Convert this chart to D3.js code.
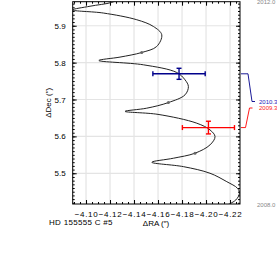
<!DOCTYPE html>
<html>
<head>
<meta charset="utf-8">
<script src="https://cdn.jsdelivr.net/npm/d3@7"></script>
<style>
  body { margin: 0; background: #fff; }
  svg { display: block; font-family: "Liberation Sans", Arial, sans-serif; }
</style>
</head>
<body>
<div class="chart-container"></div>
<script>
// tick labels
var raTicks = [-4.10, -4.12, -4.14, -4.16, -4.18, -4.20, -4.22];
var decTicks = [5.5, 5.6, 5.7, 5.8, 5.9];

// predicted motion path, from 2012.0 (top) to 2008.0 (bottom)
var pathRA = [-4.1283, -4.1214, -4.1033, -4.0888, -4.1144, -4.1423, -4.1561, -4.1631,
              -4.1589, -4.1464, -4.1283, -4.1107, -4.1478, -4.1756, -4.1825, -4.1853,
              -4.1825, -4.1686, -4.1506, -4.1325, -4.1600, -4.1923, -4.2033, -4.2075,
              -4.2033, -4.1908, -4.1728, -4.1548, -4.1811, -4.2033, -4.2173, -4.2262,
              -4.2278, -4.2248, -4.2158];
var pathDec = [5.9733, 5.9633, 5.9529, 5.9429, 5.9345, 5.9163, 5.8981, 5.8756,
               5.8438, 5.8275, 5.8150, 5.8058, 5.7941, 5.7732, 5.7534, 5.7352,
               5.7127, 5.6917, 5.6765, 5.6679, 5.6597, 5.6358, 5.6176, 5.5994,
               5.5769, 5.5544, 5.5408, 5.5299, 5.5180, 5.5001, 5.4772, 5.4593,
               5.4457, 5.4276, 5.4113];

// yearly marks on the path
var markRA = [-4.1464, -4.1686, -4.1908];
var markDec = [5.8275, 5.6917, 5.5544];

// observations
var obsEpoch = ["2010.3", "2009.3"];
var obsRA = [-4.1775, -4.2020];
var obsRAerr = [0.0218, 0.0217];
var obsDec = [5.7697, 5.6239];
var obsDecErr = [0.0150, 0.0172];
var obsColor = ["#00008b", "#ff0000"];

var endEpochs = ["2012.0", "2008.0"];

var W = 277, H = 269;
var plot = {left: 72.7, right: 240, top: 1.7, bottom: 204};

var x = d3.scaleLinear().domain([-4.0889, -4.2283]).range([plot.left, plot.right]);
var y = d3.scaleLinear().domain([5.4167, 5.9652]).range([plot.bottom, plot.top]);

var svg = d3.select(".chart-container").append("svg")
    .attr("width", W)
    .attr("height", H);

svg.append("defs").append("clipPath").attr("id", "clip")
  .append("rect")
    .attr("x", plot.left).attr("y", plot.top)
    .attr("width", plot.right - plot.left)
    .attr("height", plot.bottom - plot.top);

// grid
svg.append("g").selectAll("line")
    .data(raTicks)
  .enter().append("line")
    .attr("x1", function(d) { return x(d); })
    .attr("x2", function(d) { return x(d); })
    .attr("y1", plot.top).attr("y2", plot.bottom)
    .attr("stroke", "#e4e4e4").attr("stroke-width", 1.2);
svg.append("g").selectAll("line")
    .data(decTicks)
  .enter().append("line")
    .attr("y1", function(d) { return y(d); })
    .attr("y2", function(d) { return y(d); })
    .attr("x1", plot.left).attr("x2", plot.right)
    .attr("stroke", "#e4e4e4").attr("stroke-width", 1.2);

// minor ticks
var raMinor = d3.range(-4.090, -4.2285, -0.005);
var decMinor = d3.range(5.42, 5.965, 0.01);

function styleAxis(g) {
  g.select(".domain").remove();
  g.selectAll(".tick line").attr("stroke", "#000");
}

// bottom axis, labels
svg.append("g")
    .attr("transform", "translate(0," + plot.bottom + ")")
    .call(d3.axisBottom(x).tickValues(raTicks).tickSize(-4).tickPadding(7).tickFormat(d3.format(".2f")))
    .call(styleAxis)
    .call(function(g) {
      g.selectAll("text").attr("font-size", 8).attr("fill", "#000")
        .attr("font-family", "Liberation Sans, Arial, sans-serif").attr("letter-spacing", 0.7);
    });
svg.append("g")
    .attr("transform", "translate(0," + plot.bottom + ")")
    .call(d3.axisBottom(x).tickValues(raMinor).tickSize(-2).tickFormat(""))
    .call(styleAxis);

// top axis
svg.append("g")
    .attr("transform", "translate(0," + plot.top + ")")
    .call(d3.axisTop(x).tickValues(raTicks).tickSize(-4).tickFormat(""))
    .call(styleAxis);
svg.append("g")
    .attr("transform", "translate(0," + plot.top + ")")
    .call(d3.axisTop(x).tickValues(raMinor).tickSize(-2).tickFormat(""))
    .call(styleAxis);

// left axis, labels
svg.append("g")
    .attr("transform", "translate(" + plot.left + ",0)")
    .call(d3.axisLeft(y).tickValues(decTicks).tickSize(-4).tickPadding(7).tickFormat(d3.format(".1f")))
    .call(styleAxis)
    .call(function(g) {
      g.selectAll("text").attr("font-size", 8).attr("fill", "#000")
        .attr("font-family", "Liberation Sans, Arial, sans-serif");
    });
svg.append("g")
    .attr("transform", "translate(" + plot.left + ",0)")
    .call(d3.axisLeft(y).tickValues(decMinor).tickSize(-2).tickFormat(""))
    .call(styleAxis);

// right axis
svg.append("g")
    .attr("transform", "translate(" + plot.right + ",0)")
    .call(d3.axisRight(y).tickValues(decTicks).tickSize(-4).tickFormat(""))
    .call(styleAxis);
svg.append("g")
    .attr("transform", "translate(" + plot.right + ",0)")
    .call(d3.axisRight(y).tickValues(decMinor).tickSize(-2).tickFormat(""))
    .call(styleAxis);

// motion path
var pts = pathRA.map(function(d, i) { return [d, pathDec[i]]; });
var line = d3.line()
    .x(function(d) { return x(d[0]); })
    .y(function(d) { return y(d[1]); })
    .curve(d3.curveCatmullRom.alpha(0.5));

svg.append("path")
    .datum(pts)
    .attr("clip-path", "url(#clip)")
    .attr("d", line)
    .attr("fill", "none")
    .attr("stroke", "#222")
    .attr("stroke-width", 1);

svg.append("g").selectAll("circle")
    .data(markRA)
  .enter().append("circle")
    .attr("cx", function(d) { return x(d); })
    .attr("cy", function(d, i) { return y(markDec[i]); })
    .attr("r", 1.5)
    .attr("fill", "#666");

// frame
svg.append("rect")
    .attr("x", plot.left).attr("y", plot.top)
    .attr("width", plot.right - plot.left)
    .attr("height", plot.bottom - plot.top)
    .attr("fill", "none").attr("stroke", "#000").attr("stroke-width", 1);

// error bars
var obs = svg.append("g").selectAll("g")
    .data(obsRA)
  .enter().append("g")
    .attr("stroke", function(d, i) { return obsColor[i]; })
    .attr("stroke-width", 1.4)
    .attr("fill", "none");

obs.append("line")
    .attr("x1", function(d, i) { return x(d - obsRAerr[i]); })
    .attr("x2", function(d, i) { return x(d + obsRAerr[i]); })
    .attr("y1", function(d, i) { return y(obsDec[i]); })
    .attr("y2", function(d, i) { return y(obsDec[i]); });
obs.append("line")
    .attr("x1", function(d) { return x(d); })
    .attr("x2", function(d) { return x(d); })
    .attr("y1", function(d, i) { return y(obsDec[i] - obsDecErr[i]); })
    .attr("y2", function(d, i) { return y(obsDec[i] + obsDecErr[i]); });
// caps
[-1, 1].forEach(function(s) {
  obs.append("line")
      .attr("x1", function(d, i) { return x(d + s * obsRAerr[i]); })
      .attr("x2", function(d, i) { return x(d + s * obsRAerr[i]); })
      .attr("y1", function(d, i) { return y(obsDec[i]) - 2.5; })
      .attr("y2", function(d, i) { return y(obsDec[i]) + 2.5; });
  obs.append("line")
      .attr("x1", function(d) { return x(d) - 2.5; })
      .attr("x2", function(d) { return x(d) + 2.5; })
      .attr("y1", function(d, i) { return y(obsDec[i] + s * obsDecErr[i]); })
      .attr("y2", function(d, i) { return y(obsDec[i] + s * obsDecErr[i]); });
});

// epoch labels with leader lines at right
var labelY = [101.5, 108];
var knee = [248, 245.5];
obsEpoch.forEach(function(t, i) {
  var yy = y(obsDec[i]);
  svg.append("polyline")
      .attr("points", [[plot.right + 1, yy], [knee[i], yy], [knee[i] + 4, labelY[i]], [knee[i] + 7, labelY[i]]].join(" "))
      .attr("fill", "none")
      .attr("stroke", obsColor[i])
      .attr("stroke-width", 0.9);
  svg.append("text")
      .attr("x", 259).attr("y", labelY[i])
      .attr("dy", "0.35em")
      .attr("font-size", 6)
      .attr("fill", obsColor[i] == "#00008b" ? "#2222bb" : "#ff2222")
      .text(t);
});

svg.selectAll(".endlab")
    .data(endEpochs)
  .enter().append("text")
    .attr("class", "endlab")
    .attr("x", 257)
    .attr("y", function(d, i) { return i == 0 ? plot.top : plot.bottom + 1; })
    .attr("dy", "0.35em")
    .attr("font-size", 6)
    .attr("fill", "#888")
    .text(function(d) { return d; });

// axis titles
svg.append("text")
    .attr("transform", "translate(51," + ((plot.top + plot.bottom) / 2) + ") rotate(-90)")
    .attr("text-anchor", "middle")
    .attr("font-size", 8)
    .text("\u0394Dec (\u2033)");

svg.append("text")
    .attr("x", 156).attr("y", 225.5)
    .attr("text-anchor", "middle")
    .attr("font-size", 8)
    .text("\u0394RA (\u2033)");

svg.append("text")
    .attr("x", 49).attr("y", 224.5)
    .attr("font-size", 8)
    .attr("letter-spacing", 0.3)
    .text("HD 155555 C #5");
</script>
</body>
</html>
